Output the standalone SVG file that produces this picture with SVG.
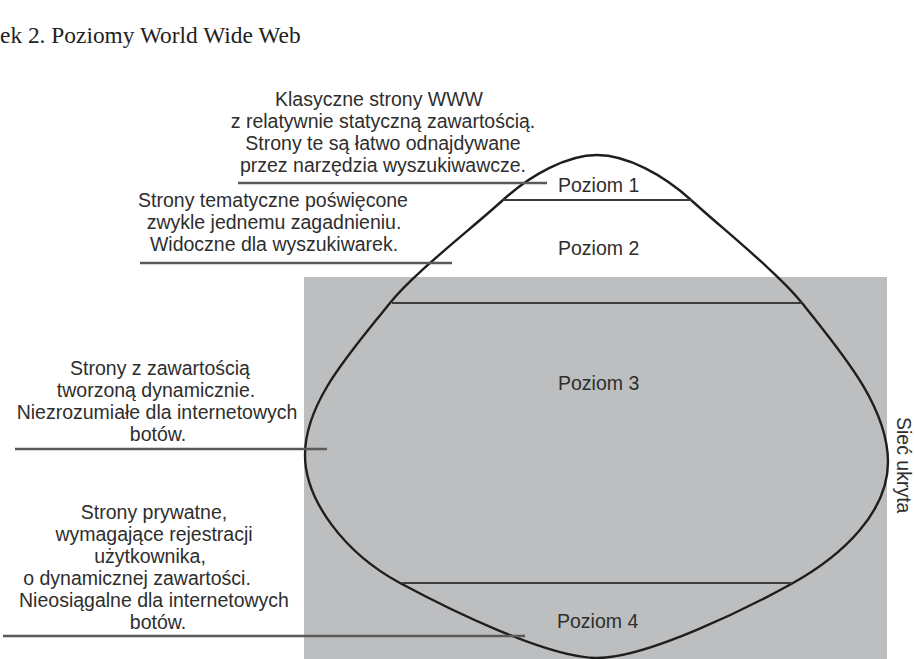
<svg xmlns="http://www.w3.org/2000/svg" width="914" height="659" viewBox="0 0 914 659">
<style>
.t{font-family:"Liberation Sans",Arial,sans-serif;font-size:19.5px;fill:#2e2e2e;text-anchor:middle}
.p{font-family:"Liberation Sans",Arial,sans-serif;font-size:19.5px;fill:#2e2e2e}
.ttl{font-family:"Liberation Serif","Times New Roman",serif;font-size:23.4px;fill:#222}
.lead{stroke:#5a5a5a;stroke-width:2.4;fill:none}
.lvl{stroke:#3c3c3c;stroke-width:2.2;fill:none}
</style>
<rect width="914" height="659" fill="#ffffff"/>
<text id="title" class="ttl" x="0" y="43">ek 2. Poziomy World Wide Web</text>
<g id="hidden-web">
<rect x="304" y="277" width="583" height="382" fill="#bdbec0"/>
<text class="p" transform="translate(897,417) rotate(90)">Sieć ukryta</text>
</g>
<g id="iceberg">
<path d="M503,200 C530.5,175 567,155 597,155 C627,155 663.5,175 691,200 C724,230 778,273 802,303 C842,353 888,407 888,462 C888,512 843,555 793,583 C748,608 647,658 597,658 C547,658 446.5,608 400,583 C344.2,553 305,500 305,455 C305,402 350,353 390,303 C414,273 470,230 503,200 Z" fill="none" stroke="#1e1e1e" stroke-width="2.4"/>
</g>
<g id="levels">
<line class="lvl" x1="503" y1="200" x2="692" y2="200"/>
<line class="lvl" x1="392" y1="303" x2="802" y2="303"/>
<line class="lvl" x1="402" y1="583" x2="792" y2="583"/>
<text class="p" x="558" y="192">Poziom 1</text>
<text class="p" x="558" y="255">Poziom 2</text>
<text class="p" x="558" y="390">Poziom 3</text>
<text class="p" x="557" y="628">Poziom 4</text>
</g>
<g id="connectors">
<line class="lead" x1="238" y1="183" x2="547" y2="183"/>
<line class="lead" x1="140" y1="263" x2="452" y2="263"/>
<line class="lead" x1="15" y1="449" x2="327" y2="449"/>
<line class="lead" x1="3" y1="636" x2="525" y2="636"/>
</g>
<g id="label-1">
<text class="t" x="379" y="106">Klasyczne strony WWW</text>
<text class="t" x="383" y="128">z relatywnie statyczną zawartością.</text>
<text class="t" x="383" y="150">Strony te są łatwo odnajdywane</text>
<text class="t" x="383" y="172">przez narzędzia wyszukiwawcze.</text>
</g>
<g id="label-2">
<text class="t" x="273" y="207">Strony tematyczne poświęcone</text>
<text class="t" x="274" y="229">zwykle jednemu zagadnieniu.</text>
<text class="t" x="274" y="251">Widoczne dla wyszukiwarek.</text>
</g>
<g id="label-3">
<text class="t" x="160" y="375">Strony z zawartością</text>
<text class="t" x="156" y="397">tworzoną dynamicznie.</text>
<text class="t" x="157" y="419">Niezrozumiałe dla internetowych</text>
<text class="t" x="158" y="441">botów.</text>
</g>
<g id="label-4">
<text class="t" x="154" y="519">Strony prywatne,</text>
<text class="t" x="154" y="541">wymagające rejestracji</text>
<text class="t" x="150" y="563">użytkownika,</text>
<text class="t" x="137" y="585">o dynamicznej zawartości.</text>
<text class="t" x="154" y="607">Nieosiągalne dla internetowych</text>
<text class="t" x="158" y="629">botów.</text>
</g>
</svg>
